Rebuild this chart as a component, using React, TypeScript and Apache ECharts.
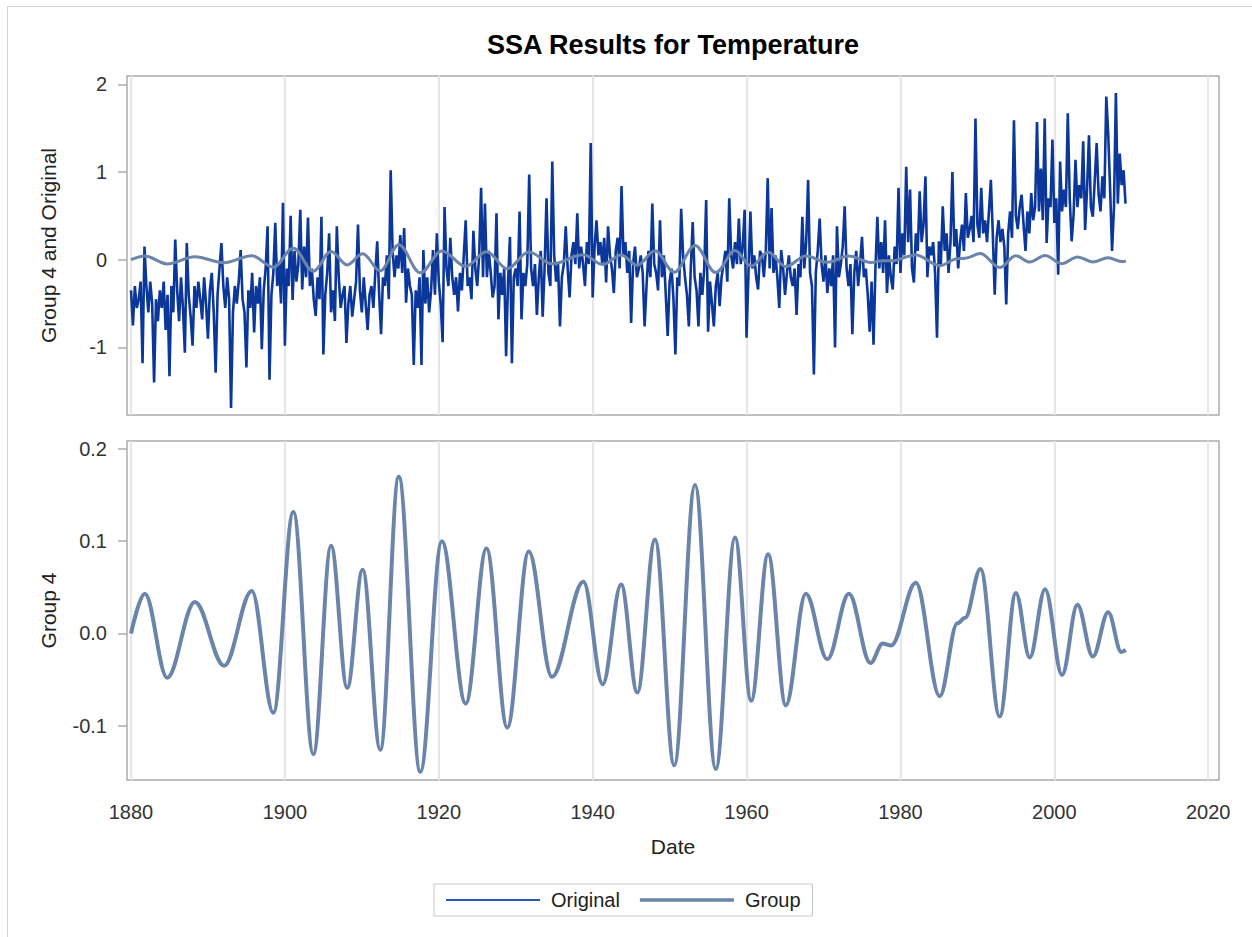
import React, { useEffect, useRef } from "react";
import * as echarts from "echarts";

const titleText = "SSA Results for Temperature";
const xTicks = [1880, 1900, 1920, 1940, 1960, 1980, 2000, 2020];
const topYTicks = [-1, 0, 1, 2];
const bottomYTicks = [-0.1, 0, 0.1, 0.2];

// Original series: quarterly readings starting 1880.0
const originalStart = 1880;
const originalStep = 0.25;
const originalValues = [
  -0.35, -0.75, -0.30, -0.55, -0.45, -0.25, -1.18, 0.15, -0.30, -0.60, -0.25, -0.50,
  -1.40, -0.45, -0.70, -0.35, -0.55, -0.25, -0.80, -0.40, -1.33, -0.30, -0.60, 0.23,
  -0.35, -0.70, -0.20, -0.55, -1.06, 0.19, -0.40, -0.65, -0.98, -0.30, -0.55, -0.25,
  -0.45, -0.68, -0.20, -0.50, -0.90, -0.35, -0.15, -0.60, -1.29, -0.40, -0.10, 0.19,
  -0.30, -0.55, -0.20, -0.45, -1.69, -0.60, -0.30, -0.50, -0.25, 0.11, -0.45, -0.60,
  -1.23, -0.35, -0.55, -0.15, -0.83, -0.30, -0.50, -0.20, -1.02, -0.35, -0.10, 0.38,
  -1.37, -0.40, -0.15, 0.42, -0.30, -0.05, -0.50, 0.65,
  -0.98, -0.10, -0.30, 0.50, -0.46, 0.10, -0.25, -0.05, 0.57, -0.34, 0.15, -0.20,
  0.48, -0.30, -0.10, -0.45, -0.64, -0.20, -0.45, 0.49, -1.08, -0.40, -0.15, 0.30,
  -0.60, -0.35, -0.70, 0.38, -0.20, -0.55, -0.40, -0.30, -0.95, -0.50, -0.30, -0.65,
  -0.45, -0.25, 0.40, -0.35, -0.60, -0.20, -0.50, -0.80, -0.40, -0.30, -0.55, -0.15,
  0.21, -0.40, -0.85, -0.20, -0.30, 0.05, -0.45, 1.02, 0.10, -0.20, 0.05, -0.10,
  0.28, -0.15, 0.36, -0.49, -0.10, -0.30, -0.40, -1.20, -0.35, -0.55, -0.20, -1.20,
  0.11, -0.50, -0.20, -0.60, -0.35, 0.11, -0.40, 0.30,
  -0.25, -0.50, -0.94, 0.60, -0.10, -0.30, 0.25, -0.20, -0.40, -0.20, -0.59, -0.15,
  -0.35, 0.05, 0.45, -0.30, -0.20, -0.45, 0.33, -0.10, -0.30, 0.05, 0.82, -0.20,
  0.64, -0.20, 0.10, -0.15, -0.43, -0.30, 0.53, -0.68, -0.15, -0.40, -0.10, -1.10,
  -0.25, 0.26, -1.18, -0.20,
  -0.10, -0.30, 0.55, -0.68, -0.15, -0.30, -0.05, 0.97, -0.10, -0.30, -0.05, -0.63,
  -0.20, 0.10, -0.65, -0.10, 0.70, -0.15, -0.30, 1.12, 0.05, -0.25, -0.05, -0.76,
  -0.20, -0.05, 0.38, -0.10, -0.43, 0.05, 0.20, -0.05, 0.53, -0.10, 0.15, -0.05,
  -0.30, 0.20, -0.05, 1.33,
  -0.43, 0.15, 0.45, 0.05, 0.20, -0.05, 0.25, -0.26, 0.38, 0.05, -0.10, -0.38,
  0.10, 0.25, -0.10, 0.84, 0.05, 0.20, -0.15, 0.10, -0.72, -0.05, 0.15, -0.20,
  -0.10, 0.05, -0.15, -0.76, -0.30, 0.10, -0.20, 0.64, -0.05, -0.15, -0.35, 0.45,
  -0.20, 0.05, -0.40, -0.87,
  -0.25, -0.10, -0.45, -1.08, -0.20, -0.30, 0.58, 0.05, -0.20, -0.40, -0.76, -0.10,
  0.43, -0.20, -0.35, -0.76, -0.15, -0.40, -0.10, 0.68, -0.82, -0.25, -0.50, -0.76,
  -0.30, -0.15, -0.53, -0.20, -0.05, 0.10, -0.25, 0.70, 0.05, -0.10, 0.20, -0.05,
  0.47, -0.05, 0.15, 0.57,
  -0.89, -0.15, 0.55, -0.10, 0.05, -0.20, -0.34, 0.10, 0.05, -0.20, 0.10, 0.93,
  -0.10, 0.59, -0.15, 0.05, -0.20, -0.55, 0.11, -0.10, -0.40, -0.15, 0.05, -0.20,
  -0.30, -0.10, -0.63, -0.05, -0.20, 0.49, -0.10, 0.20, 0.91, -0.15, -0.30, -1.31,
  -0.15, 0.10, 0.47, -0.05,
  -0.25, 0.05, -0.38, -0.10, -0.30, 0.05, -1.00, 0.38, -0.20, -0.05, 0.15, 0.61,
  -0.10, -0.30, -0.05, -0.85, -0.15, 0.10, -0.30, -0.05, 0.26, -0.20, -0.10, -0.40,
  -0.82, -0.25, -0.97, -0.10, 0.49, -0.10, 0.20, -0.15, 0.45, -0.38, 0.05, -0.20,
  -0.34, 0.15, -0.05, 0.82,
  -0.15, 0.30, 0.05, 1.06, 0.20, 0.80, -0.10, -0.26, 0.30, 0.10, 0.78, 0.20,
  0.40, 0.95, -0.20, 0.15, 0.05, 0.20, -0.15, -0.89, 0.21, -0.05, 0.61, 0.10,
  0.30, -0.15, 0.20, 1.00, 0.15, 0.35, -0.10, 0.20, 0.40, 0.10, 0.76, 0.25,
  0.35, 0.50, 0.20, 1.61,
  0.40, 0.25, 0.82, 0.30, 0.45, 0.20, 0.55, 0.91, 0.30, -0.40, 0.25, 0.45,
  0.20, 0.35, 0.15, -0.51, 0.30, 0.55, 0.25, 1.59, 0.50, 0.35, 0.60, 0.74,
  0.40, 0.10, 0.55, 0.30, 0.76, 0.45, 0.60, 1.57, 0.55, 1.04, 0.45, 1.61,
  0.19, 0.70, 0.60, 1.37,
  0.42, 0.70, -0.17, 1.12, 0.55, 0.80, 0.60, 1.67, 0.70, 0.21, 0.51, 1.14,
  0.60, 0.85, 0.70, 1.35, 0.34, 0.80, 1.42, 0.60, 0.49, 0.90, 1.33, 0.75,
  0.55, 0.95, 0.70, 1.86, 1.44, 0.80, 0.10, 0.60, 1.90, 0.64, 1.21, 0.85,
  1.02, 0.64,
];

// Group 4 component: turning points
const groupYears = [
  1880.0, 1881.8, 1884.7, 1888.3, 1892.1, 1895.7, 1898.5, 1901.1, 1903.7, 1906.0,
  1908.1, 1910.1, 1912.4, 1914.8, 1917.6, 1920.4, 1923.5, 1926.2, 1928.9, 1931.7,
  1934.7, 1938.8, 1941.3, 1943.7, 1945.8, 1948.1, 1950.6, 1953.3, 1956.0, 1958.5,
  1960.6, 1962.8, 1965.1, 1967.7, 1970.5, 1973.3, 1976.1, 1977.7, 1978.8, 1982.0,
  1985.1, 1987.4, 1988.4, 1990.4, 1992.9, 1995.0, 1996.8, 1998.8, 2001.0, 2003.0,
  2005.0, 2007.0, 2008.7, 2009.3,
];
const groupValues = [
  0.0, 0.043, -0.048, 0.034, -0.035, 0.046, -0.086, 0.132, -0.131, 0.095,
  -0.059, 0.069, -0.126, 0.17, -0.15, 0.1, -0.076, 0.092, -0.102, 0.089,
  -0.047, 0.056, -0.055, 0.053, -0.064, 0.102, -0.143, 0.161, -0.147, 0.104,
  -0.073, 0.086, -0.078, 0.043, -0.028, 0.043, -0.032, -0.011, -0.013, 0.055,
  -0.068, 0.011, 0.017, 0.07, -0.09, 0.044, -0.026, 0.048, -0.045, 0.031,
  -0.025, 0.023, -0.02, -0.018,
];

const FONT = "'Liberation Sans', Arial, Helvetica, sans-serif";
const ORIGINAL_COLOR = "#0a3799";
const GROUP_COLOR = "#6a84aa";

export default function App() {
  const ref = useRef<HTMLDivElement>(null);

  useEffect(() => {
    if (!ref.current) return;
    const chart = echarts.init(ref.current, null, { renderer: "svg" });

    const original = originalValues.map((v, i) => [originalStart + i * originalStep, v]);
    const group = groupYears.map((y, i) => [y, groupValues[i]]);

    const gridMark = () => ({
      silent: true,
      symbol: "none",
      z: 1,
      label: { show: false },
      emphasis: { disabled: true },
      lineStyle: { color: "#e6e6e6", width: 2, type: "solid" },
      data: xTicks.map((v) => ({ xAxis: v })),
    });

    const tickStyle = { color: "#a9acb0", width: 1.5 };

    const option: any = {
      animation: false,
      backgroundColor: "#ffffff",
      textStyle: { fontFamily: FONT },
      graphic: [
        {
          type: "line",
          shape: { x1: 7.5, y1: 6.5, x2: 1252, y2: 6.5 },
          style: { stroke: "#d2d2d2", lineWidth: 1 },
        },
        {
          type: "line",
          shape: { x1: 7.5, y1: 6.5, x2: 7.5, y2: 937 },
          style: { stroke: "#d2d2d2", lineWidth: 1 },
        },
        {
          type: "text",
          x: 673,
          y: 45,
          style: {
            text: titleText,
            fontSize: 27,
            fontWeight: "bold",
            fontFamily: FONT,
            fill: "#000",
            align: "center",
            verticalAlign: "middle",
          },
        },
      ],
      legend: {
        left: 434,
        top: 884,
        orient: "horizontal",
        padding: [6, 12, 6, 12],
        itemGap: 20,
        itemWidth: 94,
        itemHeight: 14,
        borderColor: "#c9c9c9",
        borderWidth: 1,
        selectedMode: false,
        textStyle: { fontSize: 20, color: "#222", fontFamily: FONT, padding: [0, 0, 0, 6] },
        data: [
          { name: "Original", icon: "path://M0 0H94V2H0Z", itemStyle: { color: "#2f55b3" } },
          { name: "Group", icon: "path://M0 0H94V3.5H0Z", itemStyle: { color: GROUP_COLOR } },
        ],
      },
      grid: [
        { left: 127, top: 76, width: 1092, height: 339, show: true, borderColor: "#a9acb0", borderWidth: 1.5 },
        { left: 127, top: 441, width: 1092, height: 339, show: true, borderColor: "#a9acb0", borderWidth: 1.5 },
      ],
      xAxis: [
        {
          gridIndex: 0,
          type: "value",
          min: 1879.48,
          max: 2021.4,
          axisLine: { show: false },
          axisTick: { show: false },
          axisLabel: { show: false },
          splitLine: { show: false },
        },
        {
          gridIndex: 1,
          type: "value",
          min: 1879.48,
          max: 2021.4,
          name: "Date",
          nameLocation: "middle",
          nameGap: 56,
          nameTextStyle: { fontSize: 21, color: "#222", fontFamily: FONT },
          axisLine: { show: false },
          axisTick: { show: true, length: 9, lineStyle: tickStyle, customValues: xTicks },
          axisLabel: {
            show: true,
            margin: 22,
            fontSize: 20,
            color: "#333",
            fontFamily: FONT,
            customValues: xTicks,
            formatter: (v: number) => String(Math.round(v)),
          },
          splitLine: { show: false },
        },
      ],
      yAxis: [
        {
          gridIndex: 0,
          type: "value",
          min: -1.771,
          max: 2.095,
          name: "Group 4 and Original",
          nameLocation: "middle",
          nameGap: 68,
          nameTextStyle: { fontSize: 21, color: "#222", fontFamily: FONT },
          axisLine: { show: false },
          axisTick: { show: true, length: 9, lineStyle: tickStyle, customValues: topYTicks },
          axisLabel: {
            margin: 20,
            fontSize: 20,
            color: "#333",
            fontFamily: FONT,
            customValues: topYTicks,
            formatter: (v: number) => String(Math.round(v)),
          },
          splitLine: { show: false },
        },
        {
          gridIndex: 1,
          type: "value",
          min: -0.1589,
          max: 0.2087,
          name: "Group 4",
          nameLocation: "middle",
          nameGap: 68,
          nameTextStyle: { fontSize: 21, color: "#222", fontFamily: FONT },
          axisLine: { show: false },
          axisTick: { show: true, length: 9, lineStyle: tickStyle, customValues: bottomYTicks },
          axisLabel: {
            margin: 20,
            fontSize: 20,
            color: "#333",
            fontFamily: FONT,
            customValues: bottomYTicks,
            formatter: (v: number) => v.toFixed(1),
          },
          splitLine: { show: false },
        },
      ],
      series: [
        {
          name: "Original",
          type: "line",
          xAxisIndex: 0,
          yAxisIndex: 0,
          data: original,
          symbol: "none",
          showSymbol: false,
          z: 2,
          itemStyle: { color: ORIGINAL_COLOR },
          lineStyle: { color: ORIGINAL_COLOR, width: 2.6, join: "miter", miterLimit: 2 },
          emphasis: { disabled: true },
          markLine: gridMark(),
        },
        {
          name: "Group",
          type: "line",
          xAxisIndex: 0,
          yAxisIndex: 0,
          data: group,
          smooth: 0.36,
          smoothMonotone: "x",
          symbol: "none",
          showSymbol: false,
          z: 3,
          itemStyle: { color: GROUP_COLOR },
          lineStyle: { color: GROUP_COLOR, width: 3 },
          emphasis: { disabled: true },
        },
        {
          name: "Group",
          type: "line",
          xAxisIndex: 1,
          yAxisIndex: 1,
          data: group,
          smooth: 0.36,
          smoothMonotone: "x",
          symbol: "none",
          showSymbol: false,
          z: 3,
          itemStyle: { color: GROUP_COLOR },
          lineStyle: { color: GROUP_COLOR, width: 4 },
          emphasis: { disabled: true },
          markLine: gridMark(),
        },
      ],
    };

    chart.setOption(option);
    return () => {
      chart.dispose();
    };
  }, []);

  return (
    <div
      ref={ref}
      style={{ position: "absolute", left: 0, top: 0, width: 1252, height: 937, background: "#fff" }}
    />
  );
}
